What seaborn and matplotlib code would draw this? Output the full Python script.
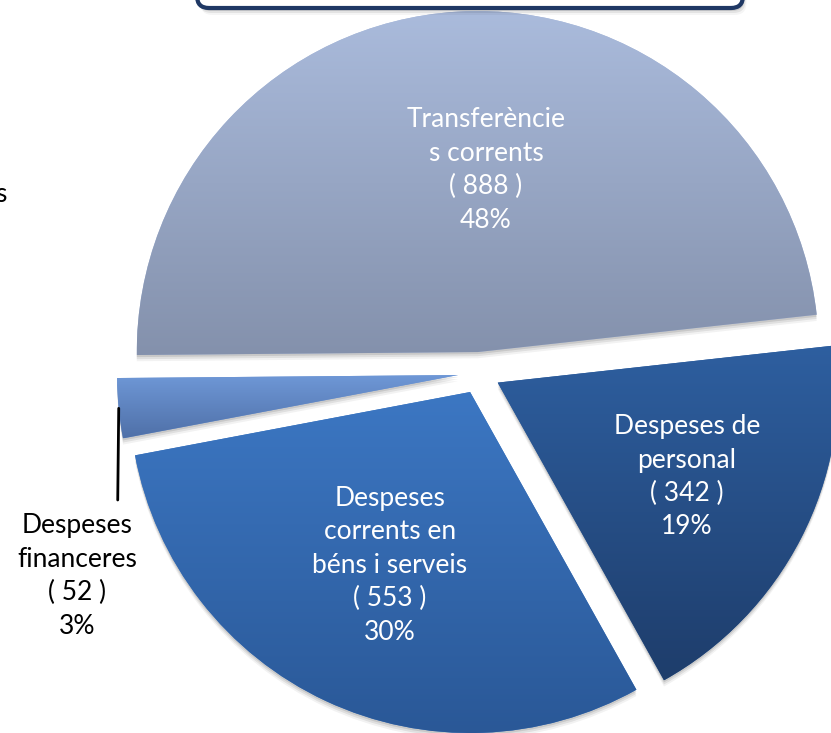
import numpy as np
import matplotlib.pyplot as plt
import seaborn as sns
from matplotlib.patches import FancyBboxPatch, Shadow

# data
categories = ['Transferèncie\ns corrents', 'Despeses de\npersonal',
              'Despeses\ncorrents en\nbéns i serveis', 'Despeses\nfinanceres']
values = [888, 342, 553, 52]

# gradient colours per slice (top -> bottom)
top_colors = ['#AABBDC', '#2E5FA0', '#3C77C3', '#6F98D7']
bottom_colors = ['#8491AC', '#1E3D6B', '#2A5897', '#4F70A8']
# label placement: (distance as share of radius, angle shift in degrees)
label_pos = [(0.534, -6), (0.62, 0.8), (0.56, 0.2), None]

sns.set_theme(style='white')
plt.rcParams['font.family'] = ['Lato', 'DejaVu Sans']

fig = plt.figure(figsize=(8.31, 7.33), dpi=100)
ax = fig.add_axes([0, 0, 1, 1])

R = 341
wedges, _ = ax.pie(values, startangle=180.5, counterclock=False, radius=R,
                   center=(479, 360), explode=[21] * 4, colors=top_colors,
                   wedgeprops=dict(linewidth=0), frame=False)

total = sum(values)
for i, w in enumerate(wedges):
    # soft shadow
    for k, a in [(1.5, 0.10), (3, 0.08), (4.5, 0.05)]:
        sh = Shadow(w, 0, -k, facecolor='black', alpha=a, zorder=0.5)
        ax.add_patch(sh)
    # gradient fill
    ext = w.get_path().get_extents()
    cmap = sns.blend_palette([bottom_colors[i], top_colors[i]], as_cmap=True)
    grad = np.linspace(0, 1, 256).reshape(-1, 1)
    im = ax.imshow(grad, cmap=cmap, origin='lower', aspect='auto',
                   extent=(ext.x0, ext.x1, ext.y0, ext.y1), zorder=2,
                   interpolation='bilinear')
    im.set_clip_path(w)

    pct = round(values[i] / total * 100)
    txt = f'{categories[i]}\n( {values[i]} )\n{pct}%'
    mid = np.deg2rad((w.theta1 + w.theta2) / 2)
    cx, cy = w.center
    if label_pos[i] is not None:
        d = label_pos[i][0] * R
        a = mid + np.deg2rad(label_pos[i][1])
        ax.text(cx + d * np.cos(a), cy + d * np.sin(a), txt, color='white',
                fontsize=19, ha='center', va='center', linespacing=1.42, zorder=5)
    else:
        # outside label with a vertical leader line
        px, py = cx + R * np.cos(mid), cy + R * np.sin(mid)
        ax.annotate('', xy=(px, py), xytext=(px - 1, 233),
                    arrowprops=dict(arrowstyle='-', color='black', lw=2,
                                    shrinkA=0, shrinkB=0), zorder=5)
        ax.text(77, 157, txt, color='black', fontsize=19, ha='center',
                va='center', linespacing=1.42, zorder=5)

# title box (cut off at the top)
for k, a in [(3, 0.10), (5, 0.07), (7, 0.04)]:
    ax.add_patch(FancyBboxPatch((197 + k / 2, 725 - k), 546, 80,
                                boxstyle='round,pad=0,rounding_size=12',
                                fc='black', ec='none', alpha=a, zorder=6,
                                clip_on=False))
ax.add_patch(FancyBboxPatch((197, 725), 546, 80,
                            boxstyle='round,pad=0,rounding_size=12',
                            fc='white', ec='#1F3864', lw=3, zorder=7,
                            clip_on=False))

# cut-off text on the left
ax.text(6, 733 - 195, 's', fontsize=19, ha='right', va='center', color='black')

ax.set_xlim(0, 831)
ax.set_ylim(0, 733)
ax.set_aspect('equal')
ax.axis('off')

plt.savefig('out.png', dpi=100)
